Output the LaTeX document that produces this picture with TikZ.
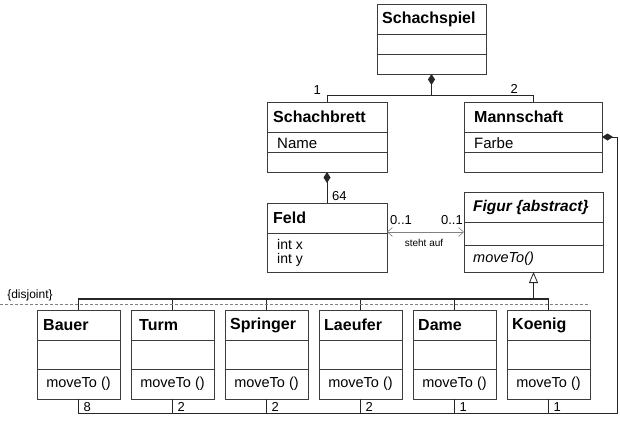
\documentclass[tikz,border=0pt]{standalone}
\usepackage{fontspec}
\setmainfont{Liberation Sans}
\usetikzlibrary{arrows.meta,positioning,calc}
\definecolor{umlrand}{RGB}{60,60,60}
\newcommand{\trenner}[2]{\draw[rand] ([yshift=-#2]#1.north west) -- ([yshift=-#2]#1.north east);}

\begin{document}
\begin{tikzpicture}[x=1pt, y=-1pt,
    klasse/.style={rectangle, draw=umlrand, line width=0.8pt, anchor=north west, inner sep=0pt, outer sep=0pt},
    unten/.style={klasse, minimum width=83pt, minimum height=89pt},
    rand/.style={draw=umlrand, line width=0.8pt},
    titel/.style={anchor=west, inner sep=0pt, font=\fontsize{16}{18}\selectfont\bfseries},
    eintrag/.style={anchor=west, inner sep=0pt, font=\fontsize{14}{14}\selectfont, align=left},
    methode/.style={inner sep=0pt, font=\fontsize{14.5}{14}\selectfont},
    mult/.style={inner sep=0pt, font=\fontsize{13}{15}\selectfont},
    linie/.style={draw=black!85, line width=0.8pt},
    komp/.style={linie, -{Diamond[length=11pt, width=7pt]}},
    erbt/.style={linie, -{Triangle[open, length=11pt, width=9pt]}},
    assoz/.style={draw=gray, line width=0.6pt, {Straight Barb[length=5pt, width=9pt]}-{Straight Barb[length=5pt, width=9pt]}}
]
\useasboundingbox (0,0) rectangle (620,420);

% Schachspiel
\node[klasse, minimum width=109pt, minimum height=70pt] (spiel) at (377,4) {};
\trenner{spiel}{30pt}
\trenner{spiel}{50pt}
\node[titel] (spielT) at ([shift={(5pt,-15pt)}]spiel.north west) {Schachspiel};

% Schachbrett und Mannschaft
\node[klasse, minimum width=120pt, minimum height=70pt] (brett) at (267,102) {};
\trenner{brett}{30pt}
\trenner{brett}{50pt}
\node[titel] (brettT) at ([shift={(6pt,-15pt)}]brett.north west) {Schachbrett};
\node[eintrag, font=\fontsize{15}{15}\selectfont] (brettA) at ([shift={(10pt,-41pt)}]brett.north west) {Name};

\node[klasse, minimum width=138pt, minimum height=70pt] (mann) at (464,102) {};
\trenner{mann}{30pt}
\trenner{mann}{50pt}
\node[titel] (mannT) at ([shift={(10pt,-15pt)}]mann.north west) {Mannschaft};
\node[eintrag, font=\fontsize{15}{15}\selectfont] (mannA) at ([shift={(10pt,-41pt)}]mann.north west) {Farbe};

% Feld
\node[klasse, minimum width=120pt, minimum height=69pt] (feld) at (267,203) {};
\trenner{feld}{30pt}
\node[titel] (feldT) at ([shift={(6pt,-15pt)}]feld.north west) {Feld};
\node[eintrag] (feldA) at ([shift={(10pt,-50pt)}]feld.north west) {int x\\int y};

% Figur
\node[klasse, minimum width=139pt, minimum height=80pt] (figur) at (464,192) {};
\trenner{figur}{30pt}
\trenner{figur}{53pt}
\node[titel, font=\fontsize{15.5}{18}\selectfont\bfseries\itshape] (figurT) at ([shift={(9pt,-15pt)}]figur.north west) {Figur \{abstract\}};
\node[eintrag, font=\fontsize{14.5}{14}\selectfont\itshape] (figurM) at ([shift={(9pt,-67pt)}]figur.north west) {moveTo()};

% Figuren
\node[unten] (bauer) at (37,310) {};
\node[unten, right=11pt of bauer] (turm) {};
\node[unten, right=11pt of turm] (springer) {};
\node[unten, right=11pt of springer] (laeufer) {};
\node[unten, right=11pt of laeufer] (dame) {};
\node[unten, right=11pt of dame] (koenig) {};

\trenner{bauer}{30pt}    \trenner{bauer}{59pt}
\trenner{turm}{30pt}     \trenner{turm}{59pt}
\trenner{springer}{30pt} \trenner{springer}{59pt}
\trenner{laeufer}{30pt}  \trenner{laeufer}{59pt}
\trenner{dame}{30pt}     \trenner{dame}{59pt}
\trenner{koenig}{30pt}   \trenner{koenig}{59pt}

\node[titel] (bauerT) at ([shift={(6pt,-15pt)}]bauer.north west) {Bauer};
\node[titel] (turmT) at ([shift={(8pt,-15pt)}]turm.north west) {Turm};
\node[titel] (springerT) at ([shift={(5pt,-15pt)}]springer.north west) {Springer};
\node[titel] (laeuferT) at ([shift={(5pt,-15pt)}]laeufer.north west) {Laeufer};
\node[titel] (dameT) at ([shift={(5pt,-15pt)}]dame.north west) {Dame};
\node[titel] (koenigT) at ([shift={(5pt,-15pt)}]koenig.north west) {Koenig};

\node[methode] (bauerM) at ([yshift=15pt]bauer.south) {moveTo ()};
\node[methode] (turmM) at ([yshift=15pt]turm.south) {moveTo ()};
\node[methode] (springerM) at ([yshift=15pt]springer.south) {moveTo ()};
\node[methode] (laeuferM) at ([yshift=15pt]laeufer.south) {moveTo ()};
\node[methode] (dameM) at ([yshift=15pt]dame.south) {moveTo ()};
\node[methode] (koenigM) at ([yshift=15pt]koenig.south) {moveTo ()};

% Komposition Schachspiel
\coordinate (oben) at ($(spiel.south)+(0,21)$);
\draw[komp] (brett.north) |- (oben) -- (spiel.south);
\draw[linie] (mann.north) |- (oben);
\node[mult, anchor=south east] (m1) at ([shift={(-6pt,0pt)}]brett.north |- oben) {1};
\node[mult, anchor=south east] (m2) at ([shift={(-15pt,1pt)}]mann.north |- oben) {2};

% Komposition Schachbrett - Feld
\draw[komp] (feld.north) -- (brett.south);
\node[mult, anchor=south west] (m64) at ([shift={(5pt,2pt)}]feld.north) {64};

% Assoziation Feld - Figur
\draw[assoz] (feld.east |- figur.west) -- (figur.west);
\node[mult, anchor=south west] (m01a) at ([shift={(3pt,7pt)}]feld.east |- figur.west) {0..1};
\node[mult, anchor=south east] (m01b) at ([shift={(-1pt,7pt)}]figur.west) {0..1};
\node[inner sep=0pt, font=\fontsize{10}{12}\selectfont] (steht) at (424,243) {steht auf};

% Vererbung
\coordinate (gen) at ($(figur.south)+(0,27)$);
\draw[linie, line width=1.1pt] (bauer.north) |- (koenig.north |- gen) -- (koenig.north);
\draw[linie] (turm.north) -- (turm.north |- gen);
\draw[linie] (springer.north) -- (springer.north |- gen);
\draw[linie] (laeufer.north) -- (laeufer.north |- gen);
\draw[linie] (dame.north) -- (dame.north |- gen);
\draw[erbt] (gen) -- (figur.south);
\draw[gray, line width=0.6pt, dash pattern=on 3pt off 2pt] (0,304) -- (590,304);
\node[inner sep=0pt, font=\fontsize{12}{14}\selectfont] (disjoint) at (30,295) {\{disjoint\}};

% Komposition Mannschaft - Figuren
\coordinate (ecke) at (617,413);
\draw[komp] (bauer.south) |- (ecke) |- (mann.east);
\draw[linie] (turm.south) -- (turm.south |- ecke);
\draw[linie] (springer.south) -- (springer.south |- ecke);
\draw[linie] (laeufer.south) -- (laeufer.south |- ecke);
\draw[linie] (dame.south) -- (dame.south |- ecke);
\draw[linie] (koenig.south) -- (koenig.south |- ecke);
\node[mult, anchor=south west] (m8) at ([shift={(5pt,1pt)}]bauer.south |- ecke) {8};
\node[mult, anchor=south west] (m2t) at ([shift={(5pt,1pt)}]turm.south |- ecke) {2};
\node[mult, anchor=south west] (m2s) at ([shift={(5pt,1pt)}]springer.south |- ecke) {2};
\node[mult, anchor=south west] (m2l) at ([shift={(5pt,1pt)}]laeufer.south |- ecke) {2};
\node[mult, anchor=south west] (m1d) at ([shift={(5pt,1pt)}]dame.south |- ecke) {1};
\node[mult, anchor=south west] (m1k) at ([shift={(5pt,1pt)}]koenig.south |- ecke) {1};

\end{tikzpicture}
\end{document}
